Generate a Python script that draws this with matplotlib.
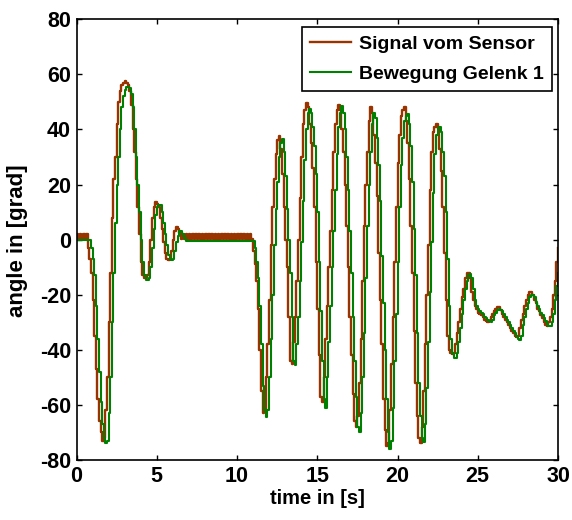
import numpy as np
import matplotlib
matplotlib.use("Agg")
import matplotlib.pyplot as plt

plt.rcParams['font.family'] = ['Liberation Sans', 'DejaVu Sans']
plt.rcParams['font.weight'] = 'bold'
plt.rcParams['axes.unicode_minus'] = False

# sample step of the recorded signals (s)
dt = 0.1

# "Signal vom Sensor" (one row per second, values every 0.1 s)
sensor = [
    2.0, 0.4, 2.0, 0.4, 2.0, 0.4, 2.0, -3, -7, -12,
    -22, -35, -47, -58, -66, -70, -73, -72, -62, -50,
    -30, -12, 8, 22, 30, 42, 50, 54, 56, 57,
    57.5, 57, 56, 54, 49, 40, 32, 22, 12, 2,
    -8, -13, -14, -14, -13, -8, 0, 8, 12, 13.5,
    13, 12, 8, 4, -1, -5, -7, -7.5, -7, -4,
    0, 3, 4.5, 4, 2.5, 0.4, 2.0, 0.4, 2.0, 0.4,
    2.0, 0.4, 2.0, 0.4, 2.0, 0.4, 2.0, 0.4, 2.0, 0.4,
    2.0, 0.4, 2.0, 0.4, 2.0, 0.4, 2.0, 0.4, 2.0, 0.4,
    2.0, 0.4, 2.0, 0.4, 2.0, 0.4, 2.0, 0.4, 2.0, 0.4,
    2.0, 0.4, 2.0, 0.4, 2.0, 0.4, 2.0, 0.4, 2.0, 0.4,
    -4, -9, -15, -25, -40, -55, -63, -62, -50, -38,
    -22, -2, 12, 22, 31, 36, 37.5, 33, 24, 12,
    0, -10, -28, -44, -45, -37, -28, -15, 0, 15,
    30, 42, 47, 49.5, 48, 42, 35, 26, 12, -8,
    -25, -42, -57, -59, -50, -36, -24, -10, 3, 18,
    32, 42, 47, 49, 47, 40, 32, 20, 5, -10,
    -28, -42, -56, -66, -68, -64, -52, -36, -15, 5,
    20, 32, 43, 48, 46, 38, 28, 16, -5, -22,
    -38, -58, -69, -75, -74, -62, -45, -28, -8, 12,
    28, 38, 45, 47, 48, 43, 35, 22, 5, -12,
    -33, -52, -64, -72, -74, -68, -55, -38, -20, -2,
    18, 32, 39, 41, 42, 40, 33, 25, 12, -5,
    -22, -35, -40, -41, -41.5, -41, -38, -34, -30, -25,
    -21, -18, -14, -12, -12, -14, -19, -22, -24, -25,
    -26.5, -27, -27.5, -28, -29, -29.5, -30, -29.5, -28, -27,
    -26, -25, -24.5, -24.5, -25.5, -27, -28, -29, -30, -31,
    -32, -33, -34, -35, -35.5, -35, -32, -29, -27, -24,
    -22, -20, -19, -19, -20, -22, -23, -25, -26, -27.5,
    -28.5, -30, -31, -31.5, -30, -28, -25, -20, -15, -8,
    -3,
]

# "Bewegung Gelenk 1" (one row per second, values every 0.1 s)
gelenk = [
    0, 0, 0, 0, 0, 0, 0, 0, 0, -3,
    -7, -13, -24, -36, -48, -59, -67, -72, -74, -73,
    -63, -50, -30, -12, 6, 20, 30, 40, 48, 52,
    54.5, 55.5, 55.5, 55, 53, 48, 40, 30, 20, 10,
    0, -8, -13, -14.5, -14.5, -14, -10, -3, 4, 9,
    12, 12.5, 12.5, 10, 6, 2, -2, -5.5, -7, -7.5,
    -7, -4, -1, 1.5, 3, 3, 2, 0.5, -0.5, -0.5,
    -0.5, -0.5, -0.5, -0.5, -0.5, -0.5, -0.5, -0.5, -0.5, -0.5,
    -0.5, -0.5, -0.5, -0.5, -0.5, -0.5, -0.5, -0.5, -0.5, -0.5,
    -0.5, -0.5, -0.5, -0.5, -0.5, -0.5, -0.5, -0.5, -0.5, -0.5,
    -0.5, -0.5, -0.5, -0.5, -0.5, -0.5, -0.5, -0.5, -0.5, -0.5,
    -0.5, -3, -8, -14, -24, -38, -53, -62, -64.5, -62,
    -50, -36, -20, -2, 11, 21, 30, 35, 36.5, 32,
    23, 11, 0, -12, -28, -44, -45.5, -38, -28, -15,
    -1, 14, 29, 40, 46, 47.5, 46, 41, 34, 24,
    10, -8, -26, -44, -58, -61, -50, -37, -24, -10,
    3, 18, 31, 41, 46, 48.5, 46, 40, 30, 18,
    3, -12, -28, -44, -57, -68, -70, -63, -50, -34,
    -14, 5, 20, 32, 42, 46, 44, 37, 27, 14,
    -6, -23, -40, -58, -70, -76, -73, -61, -44, -27,
    -8, 12, 27, 37, 43, 45, 45.5, 42, 34, 21,
    4, -13, -34, -52, -64, -72, -73.5, -67, -54, -37,
    -19, -1, 17, 31, 38, 40.5, 41, 39, 32, 23,
    10, -7, -24, -36, -41, -43, -43, -41, -37, -32,
    -27, -22, -18, -15, -13, -12.5, -14, -18, -22, -24,
    -25, -26, -26.5, -27, -28, -28.5, -29, -29.5, -30, -29,
    -27.5, -26.5, -25.5, -25, -25.5, -26, -27, -28, -29, -30,
    -31, -32, -33, -34, -35, -36, -36.5, -35, -31, -28,
    -25, -23, -21, -20, -20, -21, -22.5, -24, -25, -26.5,
    -27.5, -28.5, -29.5, -30.5, -31.5, -31.5, -30, -27, -22, -17,
    -12,
]

labels = ["Signal vom Sensor", "Bewegung Gelenk 1"]
x_ticks = [0, 5, 10, 15, 20, 25, 30]
y_ticks = [-80, -60, -40, -20, 0, 20, 40, 60, 80]

t_s = np.arange(len(sensor)) * dt
t_g = np.arange(len(gelenk)) * dt

fig = plt.figure(figsize=(5.72, 5.2), dpi=100)
ax = fig.add_axes([76.5 / 572, 60 / 520, 481.5 / 572, 440.7 / 520])

ax.plot(t_s, sensor, drawstyle='steps-post', color='#993300', lw=1.7, label=labels[0])
ax.plot(t_g, gelenk, drawstyle='steps-post', color='#008000', lw=1.5, label=labels[1])

ax.set_xlim(0, 30)
ax.set_ylim(-80, 80)
ax.set_xticks(x_ticks)
ax.set_yticks(y_ticks)
ax.tick_params(direction='in', length=3.5, width=1, top=True, right=True,
               labelsize=15.5, pad=4)
for lab in ax.get_xticklabels() + ax.get_yticklabels():
    lab.set_fontweight('bold')
for sp in ax.spines.values():
    sp.set_linewidth(1.2)

ax.set_xlabel("time in [s]", fontsize=14.5, fontweight='bold', labelpad=2)
ax.set_ylabel("angle in [grad]", fontsize=16, fontweight='bold')
ax.yaxis.set_label_coords(-0.101, 0.497)

leg = ax.legend(loc='upper right', bbox_to_anchor=(0.987, 0.982), borderaxespad=0,
                fancybox=False, edgecolor='black', framealpha=1,
                prop={'size': 14, 'weight': 'bold'}, handlelength=2.1,
                handletextpad=0.4, borderpad=0.41, labelspacing=0.63)
leg.get_frame().set_linewidth(1.2)

fig.savefig("out.png", dpi=100)
